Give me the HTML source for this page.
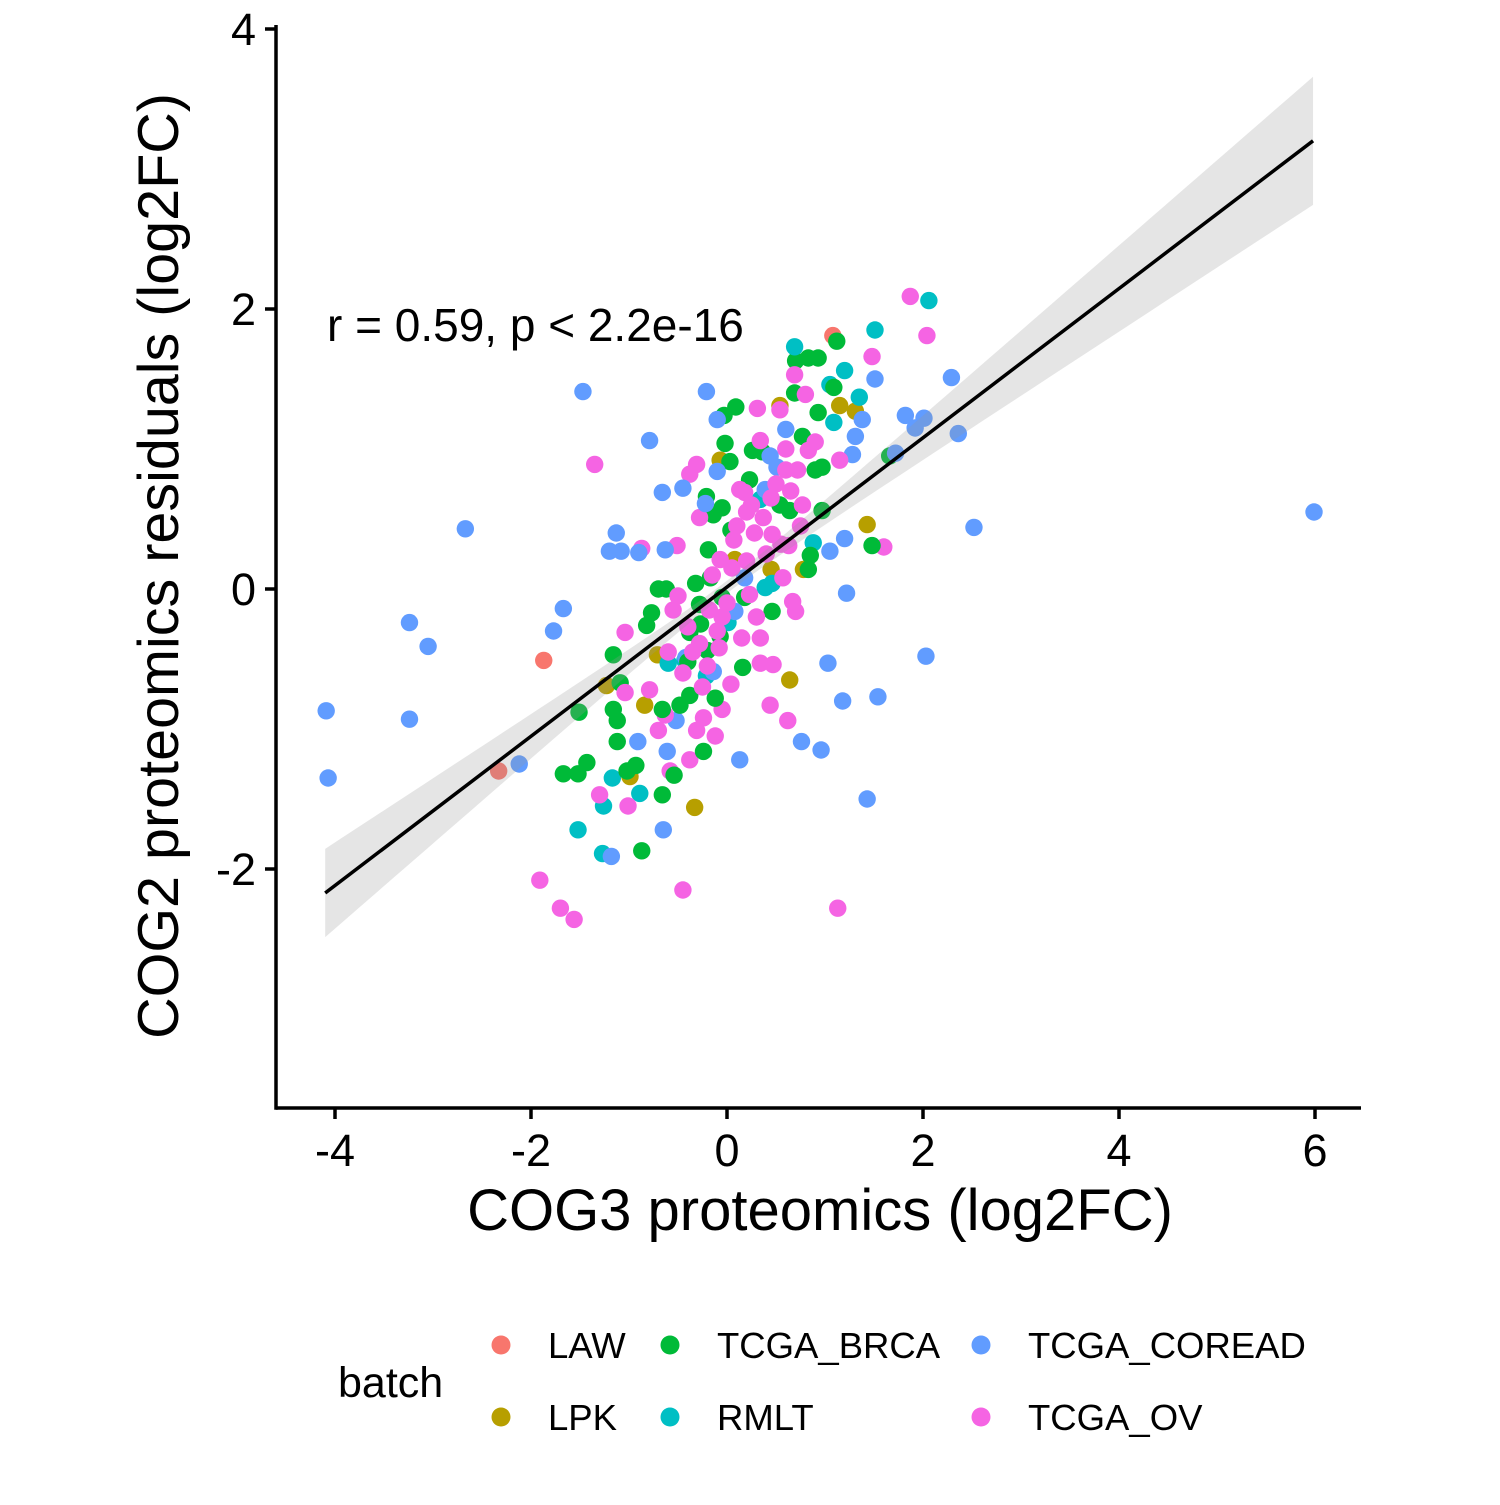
<!DOCTYPE html>
<html><head><meta charset="utf-8"><style>
body{margin:0;background:#fff}
svg text{font-family:"Liberation Sans",sans-serif}
</style></head><body>
<svg id="chart" width="1500" height="1500" viewBox="0 0 1500 1500" xmlns="http://www.w3.org/2000/svg">
<g id="pts"></g>
<g id="fit"></g>
<g id="axes"></g>
<text x="327" y="341" font-size="46">r = 0.59, p &lt; 2.2e-16</text>
<text x="820" y="1230" font-size="58" text-anchor="middle">COG3 proteomics (log2FC)</text>
<text transform="translate(178,566) rotate(-90)" font-size="57.5" text-anchor="middle">COG2 proteomics residuals (log2FC)</text>
<g id="legend">
<text x="338" y="1397" font-size="43">batch</text>
</g>
</svg>
<script>
const batches=["LAW","LPK","TCGA_BRCA","RMLT","TCGA_COREAD","TCGA_OV"];
const colors={LAW:"#F8766D",LPK:"#B79F00",TCGA_BRCA:"#00BA38",RMLT:"#00BFC4",TCGA_COREAD:"#619CFF",TCGA_OV:"#F564E3"};
const xTicks=[-4,-2,0,2,4,6];
const yTicks=[-2,0,2,4];
const fitIntercept=0.014, fitSlope=0.533, fitXmin=-4.1, fitXmax=5.98;
const ptsCOREAD=[[5.99,0.55],[-4.09,-0.87],[-4.07,-1.35],[-3.24,-0.24],[-3.24,-0.93],[-3.05,-0.41],[-2.67,0.43],[-2.12,-1.25],[-1.77,-0.3],[-1.67,-0.14],[-1.47,1.41],[-0.79,1.06],[-0.66,0.69],[-0.21,1.41],[2.52,0.44],[2.29,1.51],[2.36,1.11],[2.03,-0.48],[2.01,1.22],[1.82,1.24],[1.51,1.5],[1.54,-0.77],[1.43,-1.5],[1.18,-0.8],[1.22,-0.03],[1.03,-0.53],[0.96,-1.15],[0.76,-1.09],[0.13,-1.22],[-0.65,-1.72],[-1.18,-1.91],[-0.61,-1.16],[-0.91,-1.09],[-1.13,0.4],[-1.2,0.27],[-1.08,0.27],[-0.9,0.26],[-0.63,0.28],[-0.45,0.72],[-0.1,1.21],[1.05,0.27],[1.2,0.36],[1.31,1.09],[1.28,0.96],[1.38,1.21],[0.6,1.14],[0.44,0.95],[0.51,0.87],[-0.1,0.84],[-0.22,0.61],[-0.42,-0.49],[-0.14,-0.59],[-0.52,-0.94],[0.18,0.08],[0.08,-0.16],[0.39,0.71],[1.72,0.97],[1.92,1.15]];
const ptsOV=[[1.87,2.09],[2.04,1.81],[1.48,1.66],[1.6,0.3],[1.13,-2.28],[-0.45,-2.15],[-1.91,-2.08],[-1.7,-2.28],[-1.56,-2.36],[-1.35,0.89],[-1.3,-1.47],[-1.01,-1.55],[-0.87,0.29],[-1.04,-0.31],[0.44,-0.83],[0.62,-0.94],[0.7,-0.16],[0.67,-0.09],[0.34,-0.53],[0.47,-0.54],[0.34,-0.35],[-0.05,-0.86],[0.04,-0.68],[-0.24,-0.92],[-0.31,-1.01],[-0.38,-1.22],[-0.58,-1.3],[-0.7,-1.01],[0.69,1.53],[0.8,1.39],[0.31,1.29],[0.54,1.28],[-0.38,0.82],[-0.31,0.89],[-0.28,0.51],[-0.51,0.31],[0.07,0.35],[0.18,0.69],[0.37,0.51],[0.55,0.32],[0.72,0.85],[0.83,0.99],[0.77,0.6],[0.63,0.31],[0.46,0.39],[0.57,0.08],[0.23,-0.04],[-0.18,-0.15],[-0.4,-0.27],[-0.28,-0.39],[-0.08,-0.42],[-0.79,-0.72],[-0.63,-0.9],[-1.04,-0.74],[0.13,0.71],[0.34,1.06],[1.15,0.92],[-0.07,0.21],[0.1,0.45],[0.25,0.6],[0.5,0.75],[-0.15,0.1],[0.0,-0.1],[-0.2,-0.55],[-0.45,-0.6],[0.2,0.2],[0.65,0.7],[-0.55,-0.15],[0.4,0.25],[0.9,1.05],[0.3,-0.2],[-0.1,-0.3],[0.6,0.85],[0.45,0.65],[0.28,0.4],[0.05,0.15],[-0.05,-0.2],[-0.25,-0.7],[-0.35,-0.45],[-0.6,-0.45],[0.15,-0.35],[0.6,1.0],[0.75,0.45],[-0.12,-1.05],[-0.5,-0.05],[0.2,0.55]];
const ptsBRCA=[[1.12,1.77],[0.93,1.65],[0.83,1.65],[0.7,1.63],[0.69,1.4],[1.09,1.44],[0.93,1.26],[0.09,1.3],[-0.03,1.24],[-0.02,1.04],[0.26,0.99],[0.36,0.98],[0.23,0.78],[0.03,0.91],[0.77,1.09],[0.97,0.87],[0.9,0.85],[1.66,0.95],[1.48,0.31],[0.97,0.56],[0.64,0.56],[0.54,0.6],[-0.21,0.66],[-0.14,0.53],[-0.05,0.58],[0.04,0.42],[-0.19,0.28],[0.85,0.24],[0.83,0.14],[-0.7,0],[-0.62,0],[-0.32,0.04],[-0.17,0.08],[-0.28,-0.11],[-0.05,-0.06],[0.18,-0.06],[0.46,-0.16],[-0.77,-0.17],[-0.82,-0.26],[-0.38,-0.31],[-0.27,-0.25],[-0.07,-0.34],[-0.2,-0.44],[0.16,-0.56],[-1.16,-0.47],[-1.09,-0.67],[-1.16,-0.86],[-1.12,-0.94],[-1.51,-0.88],[-1.12,-1.09],[-1.43,-1.24],[-1.52,-1.32],[-1.67,-1.32],[-1.02,-1.3],[-0.93,-1.26],[-0.87,-1.87],[-0.66,-1.47],[-0.54,-1.33],[-0.24,-1.16],[-0.12,-0.78],[-0.38,-0.76],[-0.48,-0.83],[-0.66,-0.86],[-0.4,-0.52]];
const ptsLPK=[[1.43,0.46],[1.31,1.27],[1.15,1.31],[0.54,1.31],[0.64,-0.65],[-0.33,-1.56],[-0.84,-0.83],[-0.99,-1.34],[-1.23,-0.69],[-0.71,-0.47],[0.45,0.14],[0.08,0.21],[0.78,0.14],[-0.07,0.92]];
const ptsRMLT=[[2.06,2.06],[1.51,1.85],[1.2,1.56],[0.69,1.73],[1.05,1.46],[1.35,1.37],[1.09,1.19],[-1.52,-1.72],[-1.26,-1.55],[-1.27,-1.89],[-1.17,-1.35],[-0.89,-1.46],[-0.21,-0.62],[-0.43,-0.51],[-0.6,-0.53],[0.46,0.04],[0.39,0.01],[0.01,-0.24],[0.88,0.33],[0.34,0.64]];
const ptsLAW=[[1.08,1.81],[-1.87,-0.51],[-2.33,-1.3]];
const X=v=>727+v*98, Y=v=>589-v*140;
const NS="http://www.w3.org/2000/svg";
function mk(tag,attrs,parent){const e=document.createElementNS(NS,tag);for(const k in attrs)e.setAttribute(k,attrs[k]);parent.appendChild(e);return e;}
const pts=document.getElementById('pts');
const series=[["LAW",ptsLAW],["LPK",ptsLPK],["TCGA_BRCA",ptsBRCA],["RMLT",ptsRMLT],["TCGA_COREAD",ptsCOREAD],["TCGA_OV",ptsOV]];
const all=[];series.forEach(([b,arr])=>arr.forEach((p,i)=>all.push([b,p,i])));
all.sort((a,b)=>a[2]-b[2]);
all.forEach(([b,p])=>{const c=mk('circle',{cx:X(p[0]),cy:Y(p[1]),r:8.7,fill:colors[b]},pts);

});
const fit=document.getElementById('fit');
const se=x=>Math.sqrt(0.002+0.0058*x*x);
let up=[],lo=[];
for(let i=0;i<=60;i++){const x=fitXmin+(fitXmax-fitXmin)*i/60;const y=fitIntercept+fitSlope*x;up.push(X(x)+','+Y(y+se(x)));lo.unshift(X(x)+','+Y(y-se(x)));}
const band=mk('polygon',{points:up.concat(lo).join(' '),fill:'#999','fill-opacity':0.25},fit);


const ln=mk('line',{x1:X(fitXmin),y1:Y(fitIntercept+fitSlope*fitXmin),x2:X(fitXmax),y2:Y(fitIntercept+fitSlope*fitXmax),stroke:'#000','stroke-width':3.5},fit);


const ax=document.getElementById('axes');
const xa=mk('line',{x1:276,y1:1108,x2:1361,y2:1108,stroke:'#000','stroke-width':3.5},ax);


const ya=mk('line',{x1:276,y1:25,x2:276,y2:1109.7,stroke:'#000','stroke-width':3.5},ax);


xTicks.forEach(t=>{mk('line',{x1:X(t),y1:1108,x2:X(t),y2:1119,stroke:'#000','stroke-width':3.5},ax);
const tx=mk('text',{x:X(t),y:1166,'font-size':45,'text-anchor':'middle'},ax);tx.textContent=t;

});
yTicks.forEach(t=>{mk('line',{x1:265,y1:Y(t),x2:276,y2:Y(t),stroke:'#000','stroke-width':3.5},ax);
const tx=mk('text',{x:256,y:Y(t)+16,'font-size':45,'text-anchor':'end'},ax);tx.textContent=t;

});
const lg=document.getElementById('legend');
const lpos={LAW:[501,1345],LPK:[501,1417],TCGA_BRCA:[670,1345],RMLT:[670,1417],TCGA_COREAD:[981,1345],TCGA_OV:[981,1417]};
batches.forEach(b=>{const [x,y]=lpos[b];
const c=mk('circle',{cx:x,cy:y,r:9.5,fill:colors[b]},lg);


const t=mk('text',{x:x+47,y:y+13,'font-size':36.5},lg);t.textContent=b;

});
</script>
</body></html>
